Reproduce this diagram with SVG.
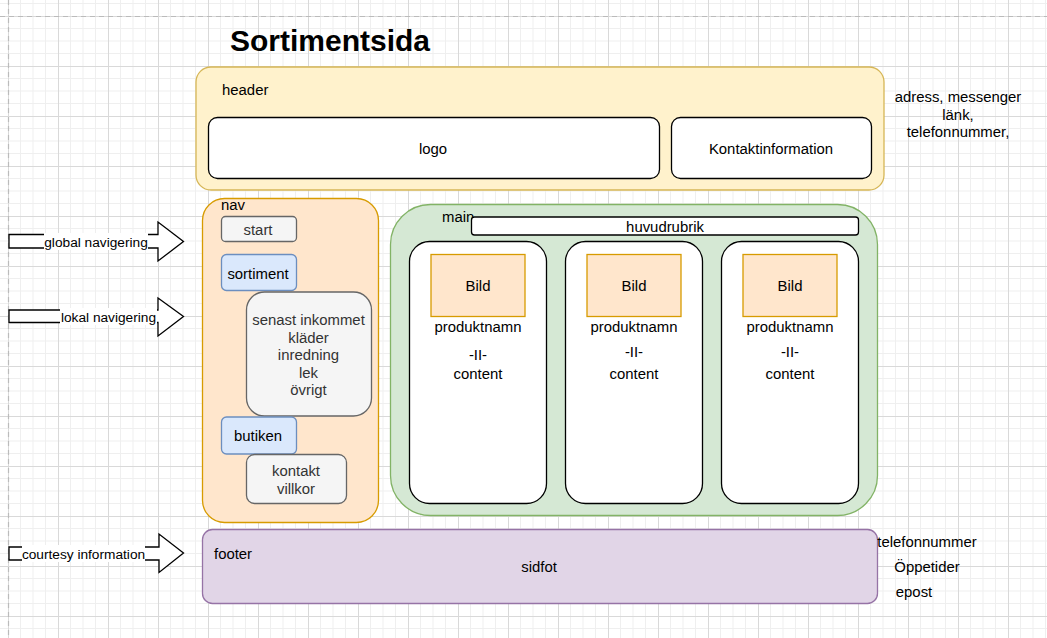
<svg xmlns="http://www.w3.org/2000/svg" width="1047" height="638" viewBox="0 0 1047 638">
<defs>
<pattern id="grid" x="8" y="16" width="50" height="50" patternUnits="userSpaceOnUse">
<path d="M12.5 0V50M25 0V50M37.5 0V50M0 12.5H50M0 25H50M0 37.5H50" stroke="#efefef" stroke-width="1" fill="none"/>
<path d="M0.5 0V50M0 0.5H50" stroke="#d9d9d9" stroke-width="1" fill="none"/>
</pattern>
<style>
text{font-family:"Liberation Sans",Arial,sans-serif;font-size:14.9px;fill:#000}
.c{text-anchor:middle}
.g{fill:#333}
.lbl{font-size:13.7px}
.white{fill:#fff;stroke:#000;stroke-width:1.3}
.gray{fill:#f5f5f5;stroke:#666;stroke-width:1.3}
.blue{fill:#dae8fc;stroke:#6c8ebf;stroke-width:1.3}
.orange{fill:#ffe6cc;stroke:#d79b00;stroke-width:1.3}
.arrow{fill:#fff;stroke:#000;stroke-width:1.3}
</style>
</defs>
<rect width="1047" height="638" fill="#fff"/>
<rect width="1047" height="638" fill="url(#grid)"/>
<path d="M8.5 0V638M0 16.5H1047" stroke="#bbb" stroke-width="1.2" stroke-dasharray="5 4" fill="none"/>

<text x="330" y="51" class="c" style="font-size:30px;font-weight:bold">Sortimentsida</text>

<g id="connectors">
<g id="arrow-global">
<polygon class="arrow" points="9,234.5 158,234.5 158,222 183.5,241.5 158,261 158,248 9,248"/>
<rect x="44" y="233" width="104" height="17" fill="#fff"/>
<text x="96" y="246.5" class="c lbl">global navigering</text>
</g>
<g id="arrow-lokal">
<polygon class="arrow" points="9,310 158,310 158,298 183.5,316.5 158,336 158,322.5 9,322.5"/>
<rect x="60" y="308" width="97" height="17" fill="#fff"/>
<text x="108.5" y="321.5" class="c lbl">lokal navigering</text>
</g>
<g id="arrow-courtesy">
<polygon class="arrow" points="9,547 159,547 159,534 183.5,553 159,572.5 159,560 9,560"/>
<rect x="22" y="545" width="123" height="17" fill="#fff"/>
<text x="83.5" y="558.5" class="c lbl">courtesy information</text>
</g>
</g>

<g id="header">
<rect x="196" y="67" width="688" height="123" rx="15" fill="#fff2cc" stroke="#d6b656" stroke-width="1.3"/>
<text x="222" y="95">header</text>
</g>
<g id="logo">
<rect class="white" x="208.5" y="117.5" width="451" height="61" rx="9"/>
<text x="433" y="153.5" class="c">logo</text>
</g>
<g id="kontaktinformation">
<rect class="white" x="671.5" y="117.5" width="200" height="61" rx="9"/>
<text x="771" y="153.5" class="c">Kontaktinformation</text>
</g>
<g id="header-note">
<text x="958" y="102" class="c">adress, messenger</text>
<text x="958" y="119.5" class="c">länk,</text>
<text x="958" y="137" class="c">telefonnummer,</text>
</g>

<g id="nav">
<rect x="202.5" y="198.5" width="176" height="324" rx="22" fill="#ffe6cc" stroke="#d79b00" stroke-width="1.3"/>
<text x="221" y="210">nav</text>
</g>
<g id="start">
<rect class="gray" x="221.5" y="216.5" width="75" height="25" rx="4"/>
<text x="258" y="235" class="c g">start</text>
</g>
<g id="sortiment">
<rect class="blue" x="221.5" y="254.5" width="75" height="36" rx="5"/>
<text x="258" y="278.5" class="c">sortiment</text>
</g>
<g id="sortiment-sub">
<rect class="gray" x="246.5" y="292" width="125" height="124" rx="18"/>
<text x="308.5" y="325" class="c g">senast inkommet</text>
<text x="308.5" y="342.5" class="c g">kläder</text>
<text x="308.5" y="360" class="c g">inredning</text>
<text x="308.5" y="377.5" class="c g">lek</text>
<text x="308.5" y="395" class="c g">övrigt</text>
</g>
<g id="butiken">
<rect class="blue" x="221.5" y="417" width="75" height="37" rx="5"/>
<text x="258" y="441" class="c">butiken</text>
</g>
<g id="butiken-sub">
<rect class="gray" x="246.5" y="454.5" width="100" height="49" rx="8"/>
<text x="296" y="476" class="c g">kontakt</text>
<text x="296" y="494" class="c g">villkor</text>
</g>

<g id="main">
<rect x="390.5" y="204.5" width="487" height="311" rx="40" fill="#d5e8d4" stroke="#82b366" stroke-width="1.3"/>
<text x="442" y="222">main</text>
</g>
<g id="huvudrubrik">
<rect class="white" x="471.5" y="217" width="387" height="18" rx="3"/>
<text x="665" y="232" class="c">huvudrubrik</text>
</g>

<g id="card1">
<rect class="white" x="409.5" y="241.5" width="137" height="262" rx="20"/>
<rect class="orange" x="431" y="254.5" width="94" height="62"/>
<text x="478" y="290.5" class="c">Bild</text>
<text x="478" y="332" class="c">produktnamn</text>
<text x="478" y="360" class="c">-II-</text>
<text x="478" y="379" class="c">content</text>
</g>
<g id="card2">
<rect class="white" x="565.5" y="241.5" width="137" height="262" rx="20"/>
<rect class="orange" x="587" y="254.5" width="94" height="62"/>
<text x="634" y="290.5" class="c">Bild</text>
<text x="634" y="332" class="c">produktnamn</text>
<text x="634" y="357" class="c">-II-</text>
<text x="634" y="379" class="c">content</text>
</g>
<g id="card3">
<rect class="white" x="721.5" y="241.5" width="137" height="262" rx="20"/>
<rect class="orange" x="743" y="254.5" width="94" height="62"/>
<text x="790" y="290.5" class="c">Bild</text>
<text x="790" y="332" class="c">produktnamn</text>
<text x="790" y="357" class="c">-II-</text>
<text x="790" y="379" class="c">content</text>
</g>

<g id="footer">
<rect x="202.5" y="529.5" width="675" height="74" rx="10" fill="#e1d5e7" stroke="#9673a6" stroke-width="1.3"/>
<text x="214" y="559">footer</text>
<text x="539" y="572" class="c">sidfot</text>
</g>
<g id="footer-note">
<text x="927" y="547" class="c">telefonnummer</text>
<text x="927" y="572" class="c">Öppetider</text>
<text x="914" y="597" class="c">epost</text>
</g>
</svg>
